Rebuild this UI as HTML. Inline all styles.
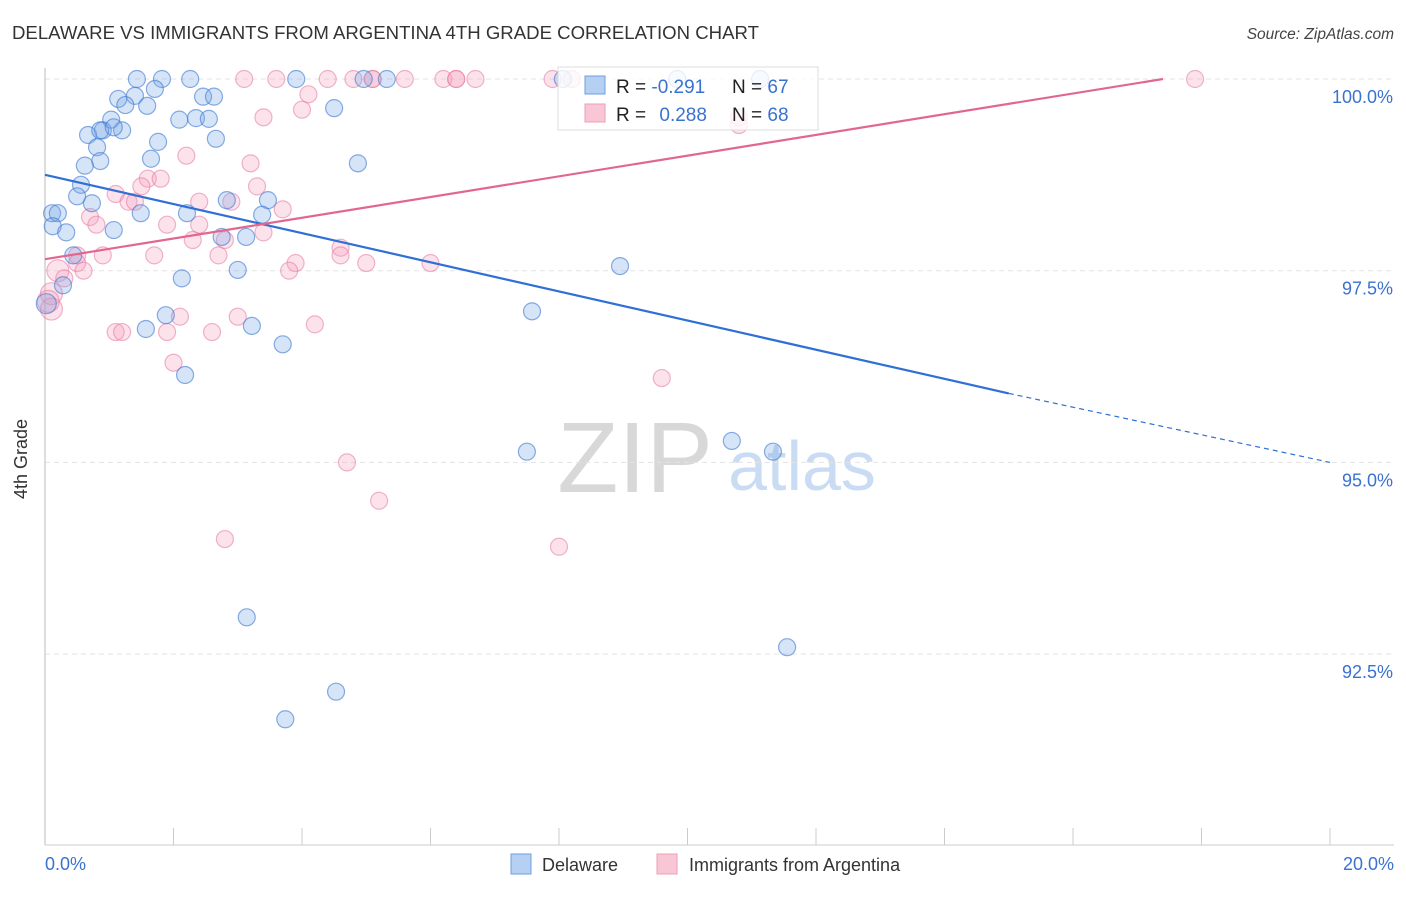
<!DOCTYPE html>
<html><head><meta charset="utf-8"><style>
body{margin:0;background:#fff;font-family:"Liberation Sans",sans-serif;}
svg text{font-family:"Liberation Sans",sans-serif;}
</style></head><body>
<svg id="chart" width="1406" height="892" xmlns="http://www.w3.org/2000/svg">
<text x="12" y="39" font-size="18.6" fill="#333">DELAWARE VS IMMIGRANTS FROM ARGENTINA 4TH GRADE CORRELATION CHART</text>
<text x="1394" y="39" font-size="15.5" font-style="italic" fill="#444" text-anchor="end">Source: ZipAtlas.com</text>
<g>
<text x="635" y="492" font-size="100" font-family="Liberation Serif" fill="#d8d8d8" text-anchor="middle">ZIP</text>
<text x="802" y="490" font-size="70" fill="#c9dcf3" text-anchor="middle">atlas</text>
</g>
<g id="grid"></g>
<line x1="45" y1="68" x2="45" y2="845" stroke="#bbb"/>
<line x1="45" y1="845" x2="1394" y2="845" stroke="#ccc"/>
<text x="24" y="456" font-size="18" fill="#333" text-anchor="middle" transform="rotate(-90 27 456)">4th Grade</text>
<g id="pts"></g>
<g id="lines"></g>
<g>
<rect x="558" y="67" width="260" height="63" fill="rgba(255,255,255,0.8)" stroke="#ddd"/>
<rect x="585" y="76" width="20" height="18" fill="#b5d0f3" stroke="#6d9de0"/>
<rect x="585" y="104" width="20" height="18" fill="#f9c6d6" stroke="#eaa0b9"/>
<text x="616" y="93" font-size="19" fill="#222">R = <tspan fill="#3a72d0">-0.291</tspan></text>
<text x="732" y="93" font-size="19" fill="#222">N = <tspan fill="#3a72d0">67</tspan></text>
<text x="616" y="121" font-size="19" fill="#222">R = <tspan fill="#3a72d0" dx="8">0.288</tspan></text>
<text x="732" y="121" font-size="19" fill="#222">N = <tspan fill="#3a72d0">68</tspan></text>
</g>
<g>
<rect x="511" y="854" width="20" height="20" fill="#b5d0f3" stroke="#6d9de0"/>
<text x="542" y="871" font-size="18" fill="#333">Delaware</text>
<rect x="657" y="854" width="20" height="20" fill="#f9c6d6" stroke="#eaa0b9"/>
<text x="689" y="871" font-size="18" fill="#333">Immigrants from Argentina</text>
</g>
<text x="45" y="870" font-size="18" fill="#3a72d0">0.0%</text>
<text x="1394" y="870" font-size="18" fill="#3a72d0" text-anchor="end">20.0%</text>
</svg>
<script>
const yTicks=[100,97.5,95,92.5];
const yTickLabels=["100.0%","97.5%","95.0%","92.5%"];
const xTicks=[0,2,4,6,8,10,12,14,16,18,20];
const blueX=[1.43,2.26,1.82,3.91,4.96,5.32,1.14,1.40,1.71,1.25,1.59,2.46,2.63,4.50,1.03,0.90,1.20,0.67,2.09,2.35,2.55,2.66,1.76,0.81,0.86,1.65,0.62,4.87,0.56,0.50,0.73,2.83,3.47,0.11,0.20,0.12,0.33,1.49,2.21,3.38,1.07,2.75,3.13,0.44,3.00,2.13,8.95,0.28,0.02,7.58,1.88,1.57,3.22,3.70,2.18,7.50,10.69,11.33,3.14,11.55,4.53,3.74,9.84,11.13,8.06,0.86,1.07];
const blueY=[100,100,100,100,100,100,99.74,99.78,99.87,99.66,99.65,99.77,99.77,99.62,99.47,99.33,99.33,99.27,99.47,99.49,99.48,99.22,99.18,99.11,98.93,98.96,98.87,98.90,98.62,98.47,98.38,98.42,98.42,98.25,98.25,98.08,98.00,98.25,98.25,98.23,98.03,97.94,97.94,97.70,97.51,97.40,97.56,97.31,97.07,96.97,96.92,96.74,96.78,96.54,96.14,95.14,95.28,95.14,92.98,92.59,92.01,91.65,100,100,100,99.33,99.37];
const pinkX=[3.1,3.6,4.4,4.8,5.1,5.6,6.2,6.4,6.7,7.9,8.2,17.9,4.1,4.0,3.4,10.8,2.2,3.2,1.6,1.8,3.3,1.1,1.5,1.3,1.4,2.9,3.7,2.4,0.7,0.8,1.9,2.4,2.3,2.8,3.4,1.7,2.7,0.9,4.6,4.6,5.0,6.0,3.9,3.8,0.5,0.5,0.6,0.2,0.3,0.1,0.1,1.1,1.2,1.9,2.1,2.6,3.0,4.2,2.0,9.6,4.7,5.2,2.8,8.0,10.8,0.05,5.1,6.4];
const pinkY=[100,100,100,100,100,100,100,100,100,100,100,100,99.8,99.6,99.5,99.5,99.0,98.9,98.7,98.7,98.6,98.5,98.6,98.4,98.4,98.4,98.3,98.4,98.2,98.1,98.1,98.1,97.9,97.9,98.0,97.7,97.7,97.7,97.8,97.7,97.6,97.6,97.6,97.5,97.7,97.6,97.5,97.5,97.4,97.2,97.0,96.7,96.7,96.7,96.9,96.7,96.9,96.8,96.3,96.1,95.0,94.5,94.0,93.9,99.4,97.1,100,100];
const blueTrend=[0,98.75,15,95.9,20,95.0];
const pinkTrend=[0,97.65,17.4,100];
const X=v=>45+v/20*1285, Y=v=>79+(100-v)/2.5*191.7;
const NS="http://www.w3.org/2000/svg";
function mk(t,a,p){const e=document.createElementNS(NS,t);for(const k in a)e.setAttribute(k,a[k]);p.appendChild(e);return e;}
const grid=document.getElementById('grid');
yTicks.forEach((v,i)=>{
 const l=mk('line',{x1:45,x2:1394,y1:Y(v),y2:Y(v),stroke:'#e3e3e3','stroke-dasharray':'5 4'},grid);
 
 
 const t=mk('text',{x:1393,y:Y(v)+24,'font-size':18,fill:'#3a72d0','text-anchor':'end'},grid);
 t.textContent=yTickLabels[i];
 
 
});
xTicks.forEach(v=>{
 const l=mk('line',{x1:X(v),x2:X(v),y1:828,y2:845,stroke:'#ccc'},grid);
 
 
});
const pts=document.getElementById('pts');
pinkX.forEach((x,i)=>{
 const c=mk('circle',{cx:X(x),cy:Y(pinkY[i]),r:(x<0.3?11:8.5),fill:'rgba(245,160,190,0.3)',stroke:'rgba(230,120,160,0.55)','stroke-width':1.2},pts);
 
 
});
blueX.forEach((x,i)=>{
 const c=mk('circle',{cx:X(x),cy:Y(blueY[i]),r:(x<0.05?10:8.5),fill:'rgba(120,165,230,0.3)',stroke:'rgba(60,120,210,0.6)','stroke-width':1.2},pts);
 
 
});
const lines=document.getElementById('lines');
let b=mk('line',{x1:X(blueTrend[0]),y1:Y(blueTrend[1]),x2:X(blueTrend[2]),y2:Y(blueTrend[3]),stroke:'#2f6fd6','stroke-width':2.2},lines);


let bd=mk('line',{x1:X(blueTrend[2]),y1:Y(blueTrend[3]),x2:X(blueTrend[4]),y2:Y(blueTrend[5]),stroke:'#2f6fd6','stroke-width':1.2,'stroke-dasharray':'5 4'},lines);


let p=mk('line',{x1:X(pinkTrend[0]),y1:Y(pinkTrend[1]),x2:X(pinkTrend[2]),y2:Y(pinkTrend[3]),stroke:'#e2678f','stroke-width':2.2},lines);


</script>
</body></html>
